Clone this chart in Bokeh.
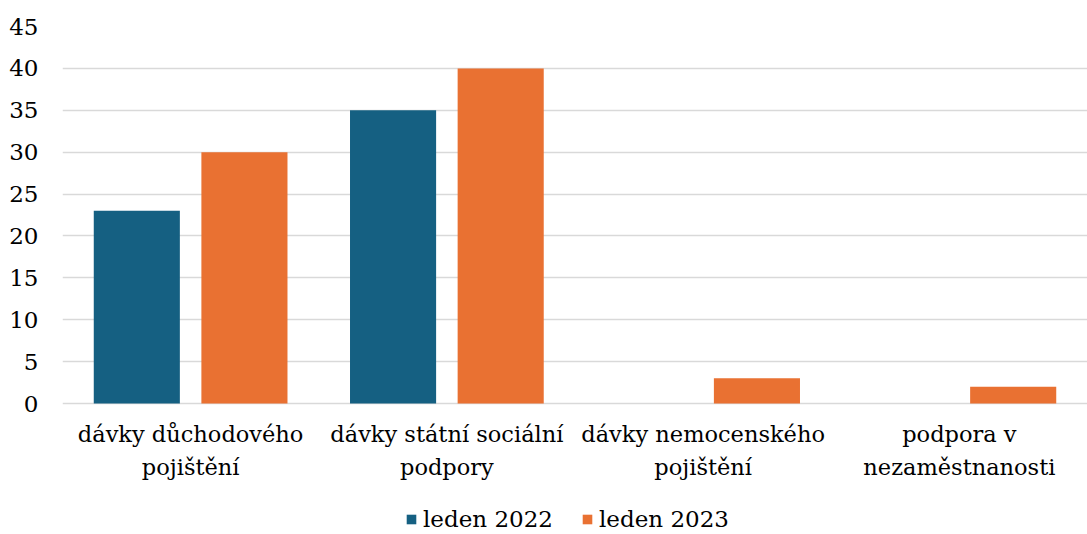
from bokeh.plotting import figure
from bokeh.models import FactorRange, Range1d, Legend, LegendItem, FixedTicker, ColumnDataSource
from bokeh.core.properties import value
from bokeh.transform import dodge
from bokeh.embed import file_html
from bokeh.resources import INLINE

categories = ["dávky důchodového\npojištění", "dávky státní sociální\npodpory",
              "dávky nemocenského\npojištění", "podpora v\nnezaměstnanosti"]
series_names = ["leden 2022", "leden 2023"]
values_2022 = [23, 35, 0, 0]
values_2023 = [30, 40, 3, 2]
y_ticks = [0, 5, 10, 15, 20, 25, 30, 35, 40, 45]
colors = ["#156082", "#E97132"]

src = ColumnDataSource(dict(cat=categories, v22=values_2022, v23=values_2023,
                            zero=[0] * len(categories)))

FONT = "DejaVu Serif"
FS = "23px"

# plot area: 377 px for 0..45, plus 131 px below zero for the category labels and legend
y_max = y_ticks[-1]
y_min = -y_max * 131 / 377

p = figure(x_range=FactorRange(*categories, range_padding=0.0), y_range=Range1d(y_min, y_max),
           width=1087, height=534, output_backend="svg", toolbar_location=None,
           x_axis_location=None,
           min_border_left=62, min_border_right=0, min_border_top=26, min_border_bottom=0)
p.outline_line_color = None

r1 = p.vbar(x=dodge("cat", -0.21, range=p.x_range), top="v22", width=0.336, source=src,
            fill_color=colors[0], line_color=None)
r2 = p.vbar(x=dodge("cat", 0.21, range=p.x_range), top="v23", width=0.336, source=src,
            fill_color=colors[1], line_color=None)

# category labels below the zero line
p.text(x="cat", y="zero", text="cat", source=src, text_align="center", text_baseline="top",
       y_offset=17, text_font=value(FONT), text_font_size="22.5px", text_color="#000000",
       text_line_height=1.3)

p.xgrid.grid_line_color = None
p.ygrid.grid_line_color = "#d9d9d9"
p.ygrid.grid_line_width = 1.5
p.yaxis.ticker = FixedTicker(ticks=y_ticks)
p.yaxis.axis_line_color = None
p.yaxis.major_tick_line_color = None
p.yaxis.minor_tick_line_color = None
p.yaxis.major_label_text_font = FONT
p.yaxis.major_label_text_font_size = FS
p.yaxis.major_label_text_color = "#000000"
p.yaxis.major_label_standoff = 18

legend = Legend(items=[LegendItem(label=series_names[0], renderers=[r1]),
                       LegendItem(label=series_names[1], renderers=[r2])],
                orientation="horizontal", location=(343, 2),
                label_text_font=FONT, label_text_font_size=FS, label_text_color="#000000",
                glyph_width=12, glyph_height=12, spacing=28, label_standoff=6,
                border_line_color=None, background_fill_alpha=0, padding=0, margin=0)
p.add_layout(legend, "center")

open("out.html", "w").write(file_html(p, INLINE))
